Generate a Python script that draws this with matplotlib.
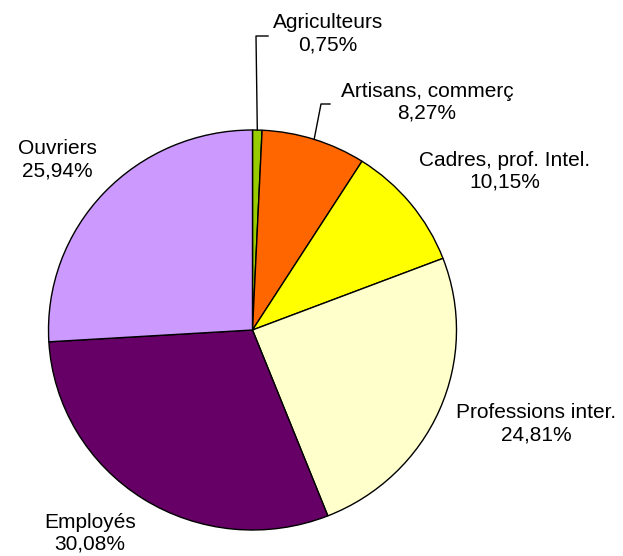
import matplotlib
matplotlib.use("Agg")
import matplotlib.pyplot as plt
import numpy as np

categories = ["Agriculteurs", "Artisans, commerç", "Cadres, prof. Intel.",
              "Professions inter.", "Employés", "Ouvriers"]
values = [0.75, 8.27, 10.15, 24.81, 30.08, 25.94]
value_labels = ["0,75%", "8,27%", "10,15%", "24,81%", "30,08%", "25,94%"]
colors = ["#99CC00", "#FF6600", "#FFFF00", "#FFFFCC", "#660066", "#CC99FF"]

W, H = 623, 556
k = 204.0 / 200.0  # slight vertical squash as in the reference
fig = plt.figure(figsize=(W / 100, H / 100), dpi=100)
ax = fig.add_axes([0, 0, 1, 1])

def Y(py):
    return (H - py) * k

cx, cy, r = 252.5, Y(330), 204
wedges, _ = ax.pie(values, colors=colors, startangle=90, counterclock=False,
                   center=(cx, cy), radius=r, frame=True,
                   wedgeprops=dict(edgecolor="black", linewidth=1.0))
ax.set_aspect("auto")
ax.set_xlim(0, W)
ax.set_ylim(0, H * k)
ax.axis("off")

# label text centres (pixels from top-left)
label_pos = [(328, 34), (427, 102), (505, 171), (536, 424), (90, 533), (57, 160)]
fs = 15
for i, (lab, vl) in enumerate(zip(categories, value_labels)):
    x, y = label_pos[i]
    ax.text(x, Y(y), lab + "\n" + vl, ha="center", va="center",
            fontsize=fs, family=["Liberation Sans", "DejaVu Sans"],
            linespacing=1.2, color="black")

# leader lines for the two small slices
elbows = [((256, 36), (268, 36)), ((321, 104), (330, 104))]
for i, (elb, end) in enumerate(elbows):
    w = wedges[i]
    ang = np.deg2rad((w.theta1 + w.theta2) / 2)
    sx = cx + r * np.cos(ang)
    sy = cy + r * np.sin(ang)
    ax.plot([sx, elb[0], end[0]], [sy, Y(elb[1]), Y(end[1])],
            color="black", linewidth=1.0)

fig.savefig("out.png", dpi=100)
